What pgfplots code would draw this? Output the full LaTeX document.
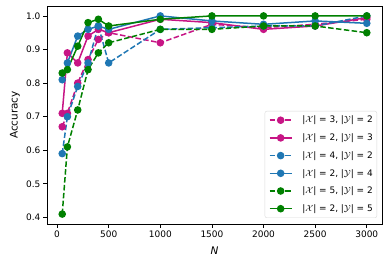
\documentclass[border=0pt]{standalone}
\usepackage{pgfplots}
\pgfplotsset{compat=1.18}
\usepackage{fontspec}
\setmainfont{DejaVu Sans}
\definecolor{colM}{HTML}{C71585}
\definecolor{colB}{HTML}{1F77B4}
\definecolor{colG}{HTML}{008000}
\begin{document}
\fontsize{9}{11}\selectfont
\begin{tikzpicture}
\begin{axis}[
  scale only axis, width=335bp, height=218bp,
  xmin=-97.5, xmax=3147.5, ymin=0.3805, ymax=1.0295,
  xtick={0,500,1000,1500,2000,2500,3000},
  ytick={0.4,0.5,0.6,0.7,0.8,0.9,1.0},
  tick pos=left, tick align=outside,
  major tick length=3.5bp,
  every tick/.style={black, line width=0.8bp},
  axis line style={line width=0.8bp},
  scaled ticks=false,
  /pgf/number format/assume math mode=true,
  /pgf/number format/1000 sep={},
  yticklabel style={/pgf/number format/.cd, fixed, fixed zerofill, precision=1},
  ticklabel style={font=\fontsize{9}{11}\selectfont},
  xlabel={\fontsize{10.5}{12}\selectfont\itshape N},
  ylabel={\fontsize{10.5}{12}\selectfont Accuracy},
  xlabel style={yshift=-3bp},
  ylabel style={yshift=0bp},
  every axis plot/.append style={line width=1.5bp, mark=*, mark size=3bp},
  legend image code/.code={\path (-1bp,0) (31bp,0);\draw[line width=1.5bp,mark repeat=2,mark phase=2,#1] plot coordinates {(0bp,0bp) (11bp,0bp) (22bp,0bp)};},
  legend cell align=left,
  legend style={at={(1,0)}, xshift=-5bp, yshift=6bp, anchor=south east,
    draw=black!15, rounded corners=2bp, font=\fontsize{9}{11}\selectfont,
    row sep=7.5bp, inner xsep=3bp, inner ysep=4bp,
    nodes={inner sep=1bp}},
]
\addplot[colM, dash pattern=on 5.5bp off 2.4bp, mark options={solid}] coordinates {
(50,0.67) (100,0.71) (200,0.80) (300,0.87) (400,0.93) (500,0.95) (1000,0.92) (1500,0.975) (2000,0.965) (2500,0.975) (3000,0.99)};
\addlegendentry{\textbar$\mathcal{X}$\textbar{} = 3, \textbar$\mathcal{Y}$\textbar{} = 2}
\addplot[colM] coordinates {
(50,0.71) (100,0.89) (200,0.86) (300,0.94) (400,0.96) (500,0.95) (1000,0.99) (1500,0.98) (2000,0.96) (2500,0.97) (3000,0.995)};
\addlegendentry{\textbar$\mathcal{X}$\textbar{} = 2, \textbar$\mathcal{Y}$\textbar{} = 3}
\addplot[colB, dash pattern=on 5.5bp off 2.4bp, mark options={solid}] coordinates {
(50,0.59) (100,0.70) (200,0.79) (300,0.86) (400,0.97) (500,0.86) (1000,0.96) (1500,0.965) (2000,0.97) (2500,0.97) (3000,1.0)};
\addlegendentry{\textbar$\mathcal{X}$\textbar{} = 4, \textbar$\mathcal{Y}$\textbar{} = 2}
\addplot[colB] coordinates {
(50,0.81) (100,0.86) (200,0.94) (300,0.96) (400,0.97) (500,0.96) (1000,1.0) (1500,0.985) (2000,0.975) (2500,0.985) (3000,0.978)};
\addlegendentry{\textbar$\mathcal{X}$\textbar{} = 2, \textbar$\mathcal{Y}$\textbar{} = 4}
\addplot[colG, dash pattern=on 5.5bp off 2.4bp, mark options={solid}] coordinates {
(50,0.41) (100,0.61) (200,0.72) (300,0.84) (400,0.89) (500,0.92) (1000,0.96) (1500,0.96) (2000,0.97) (2500,0.97) (3000,0.95)};
\addlegendentry{\textbar$\mathcal{X}$\textbar{} = 5, \textbar$\mathcal{Y}$\textbar{} = 2}
\addplot[colG] coordinates {
(50,0.83) (100,0.84) (200,0.91) (300,0.98) (400,0.99) (500,0.97) (1000,0.99) (1500,1.0) (2000,1.0) (2500,1.0) (3000,1.0)};
\addlegendentry{\textbar$\mathcal{X}$\textbar{} = 2, \textbar$\mathcal{Y}$\textbar{} = 5}
\end{axis}
\pgfresetboundingbox
\path (current axis.south west) ++(-47bp,-41bp) rectangle ([xshift=7bp,yshift=6bp]current axis.north east);
\end{tikzpicture}
\end{document}
